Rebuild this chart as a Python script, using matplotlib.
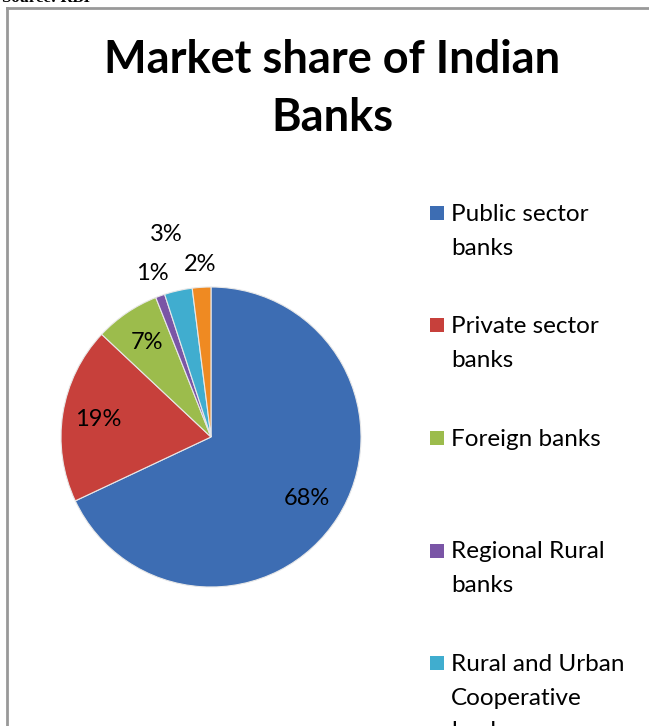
import numpy as np
import matplotlib.pyplot as plt
from matplotlib.patches import Rectangle

# market share by bank group (percent)
groups = ['Public sector\nbanks', 'Private sector\nbanks', 'Foreign banks',
          'Regional Rural\nbanks', 'Rural and Urban\nCooperative\nbank', 'Others']
share = [68, 19, 7, 1, 3, 2]
colors = ['#3D6DB3', '#C7403B', '#9CBC4C', '#7A55A6', '#40ADCF', '#EF8A22']
# how far from the centre each percent label sits (radius units)
label_r = [0.76, 0.76, 0.76, 1.16, 1.38, 1.15]

W, H = 649, 726
fig = plt.figure(figsize=(W / 100, H / 100), dpi=100)
fig.patch.set_facecolor('white')

# frame of the copied chart (only top and left edges visible)
fig.add_artist(plt.Line2D([7 / W, 7 / W], [0, 1 - 8 / H], transform=fig.transFigure,
                          color='#999999', lw=2))
fig.add_artist(plt.Line2D([7 / W, 1], [1 - 8 / H, 1 - 8 / H], transform=fig.transFigure,
                          color='#999999', lw=2))
fig.text(2 / W, 1 + 2 / H, 'Source: RBI', family='Liberation Serif', weight='bold',
         fontsize=12, va='center', ha='left')

fig.text(332 / W, 1 - 60 / H, 'Market share of Indian', family='Lato', weight='bold',
         fontsize=32.5, ha='center', va='center')
fig.text(332 / W, 1 - 118 / H, 'Banks', family='Lato', weight='bold',
         fontsize=32.5, ha='center', va='center')

cx, cy, r = 211, 437, 150
ax = fig.add_axes([(cx - r) / W, (H - cy - r) / H, 2 * r / W, 2 * r / H])
wedges, _ = ax.pie(share, colors=colors, startangle=90, counterclock=False,
                   wedgeprops=dict(edgecolor='#e8e8e8', linewidth=0.8))
ax.set_xlim(-1, 1)
ax.set_ylim(-1, 1)
ax.set_aspect('equal')
ax.axis('off')

for w, v, d in zip(wedges, share, label_r):
    ang = np.deg2rad((w.theta1 + w.theta2) / 2)
    ax.text(d * np.cos(ang), d * np.sin(ang), f'{v}%', family='Lato', fontsize=17,
            ha='center', va='center', clip_on=False)

# legend drawn by hand so entries keep an even step
step = 112.5
for i, (g, c) in enumerate(zip(groups, colors)):
    y = 213 + i * step
    fig.add_artist(Rectangle((430 / W, 1 - (y + 7) / H), 14 / W, 14 / H,
                             transform=fig.transFigure, facecolor=c, edgecolor='none'))
    fig.text(451 / W, 1 - (y - 9) / H, g, family='Lato', fontsize=17.5,
             ha='left', va='top', linespacing=1.75)

fig.savefig('out.png', dpi=100)
